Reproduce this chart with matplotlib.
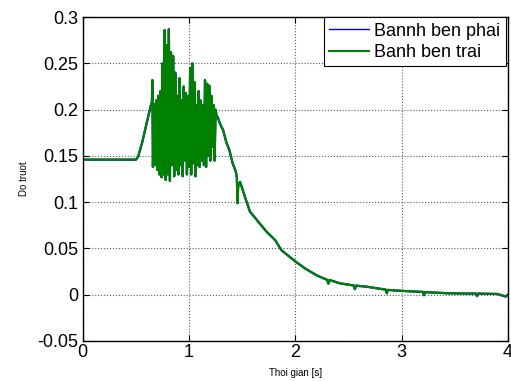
import matplotlib
matplotlib.use('Agg')
import matplotlib.pyplot as plt

plt.rcParams['font.family'] = ['Liberation Sans', 'DejaVu Sans']

# time [s] and slip values
t_start = [0.0, 0.001, 0.30, 0.50, 0.52, 0.56, 0.60, 0.637, 0.65, 0.655]
s_start = [0.0, 0.146, 0.146, 0.146, 0.149, 0.165, 0.185, 0.203, 0.208, 0.232]

t_osc = [0.66, 0.67, 0.68, 0.69, 0.70, 0.71, 0.72, 0.73, 0.74, 0.75,
         0.76, 0.77, 0.78, 0.79, 0.80, 0.81, 0.82, 0.83, 0.84, 0.85,
         0.86, 0.87, 0.88, 0.89, 0.90, 0.91, 0.92, 0.93, 0.94, 0.95,
         0.96, 0.97, 0.98, 0.99, 1.00, 1.01, 1.02, 1.03, 1.04, 1.05,
         1.06, 1.07, 1.08, 1.09, 1.10, 1.11, 1.12, 1.13, 1.14, 1.15,
         1.16, 1.17, 1.18, 1.19, 1.20, 1.21, 1.22, 1.23, 1.24, 1.25, 1.26]
s_osc = [0.138, 0.206, 0.140, 0.210, 0.135, 0.215, 0.130, 0.220, 0.127, 0.250,
         0.130, 0.286, 0.124, 0.270, 0.130, 0.287, 0.123, 0.262, 0.140, 0.258,
         0.128, 0.240, 0.135, 0.215, 0.130, 0.234, 0.140, 0.210, 0.128, 0.225,
         0.145, 0.218, 0.130, 0.215, 0.138, 0.245, 0.130, 0.250, 0.142, 0.230,
         0.128, 0.205, 0.140, 0.220, 0.138, 0.210, 0.145, 0.205, 0.140, 0.232,
         0.138, 0.228, 0.150, 0.226, 0.145, 0.215, 0.160, 0.205, 0.145, 0.200, 0.192]

t_decay = [1.27, 1.29, 1.32, 1.35, 1.38, 1.41, 1.44, 1.45, 1.455, 1.462,
           1.48, 1.525, 1.572, 1.65, 1.73, 1.81, 1.87, 2.0, 2.09, 2.2,
           2.30, 2.31, 2.32, 2.42, 2.55, 2.56, 2.57, 2.67, 2.85, 2.86, 2.87,
           2.98, 3.20, 3.21, 3.22, 3.45, 3.70, 3.71, 3.72, 3.90, 3.98, 4.0]
s_decay = [0.192, 0.185, 0.178, 0.165, 0.156, 0.142, 0.133, 0.126, 0.099, 0.117,
           0.122, 0.106, 0.090, 0.079, 0.068, 0.059, 0.048, 0.036, 0.0285, 0.021,
           0.016, 0.012, 0.016, 0.0123, 0.0100, 0.0060, 0.0098, 0.0087, 0.0055, 0.0015, 0.0052,
           0.0043, 0.0030, -0.0005, 0.0028, 0.0015, 0.0012, -0.0015, 0.0012, 0.0008, -0.0020, 0.0]

t = t_start + t_osc + t_decay
s = s_start + s_osc + s_decay

fig = plt.figure(figsize=(5.11, 3.81), dpi=100)
ax = fig.add_axes([0.162, 0.105, 0.832, 0.850])

ax.plot(t, s, color='#0000ff', lw=1.6, label='Bannh ben phai')
ax.plot(t, s, color='#008000', lw=1.6, label='Banh ben trai')

ax.set_xlim(0, 4)
ax.set_ylim(-0.05, 0.3)
ax.set_xticks([0, 1, 2, 3, 4])
ax.set_yticks([-0.05, 0, 0.05, 0.1, 0.15, 0.2, 0.25, 0.3])
ax.set_yticklabels(['-0.05', '0', '0.05', '0.1', '0.15', '0.2', '0.25', '0.3'])
ax.tick_params(direction='in', top=True, right=True, labelsize=13, length=4)
ax.tick_params(axis='y', pad=3)
ax.tick_params(axis='x', pad=2)
ax.grid(True, linestyle=':', color='0.35', lw=0.8)
for sp in ax.spines.values():
    sp.set_linewidth(1.0)

ax.set_xlabel('Thoi gian [s]', fontsize=7, labelpad=5)
ax.set_ylabel('Do truot', fontsize=7, labelpad=6)

leg = ax.legend(loc='upper right', bbox_to_anchor=(0.995, 1.0), borderaxespad=0,
                fontsize=13, handlelength=2.2, handletextpad=0.3,
                fancybox=False, framealpha=1, edgecolor='black',
                borderpad=0.3, labelspacing=0.25)
leg.get_frame().set_linewidth(0.8)
leg.get_lines()[0].set_linewidth(1.0)
leg.get_lines()[1].set_linewidth(1.5)

plt.savefig('out.png', dpi=100)
